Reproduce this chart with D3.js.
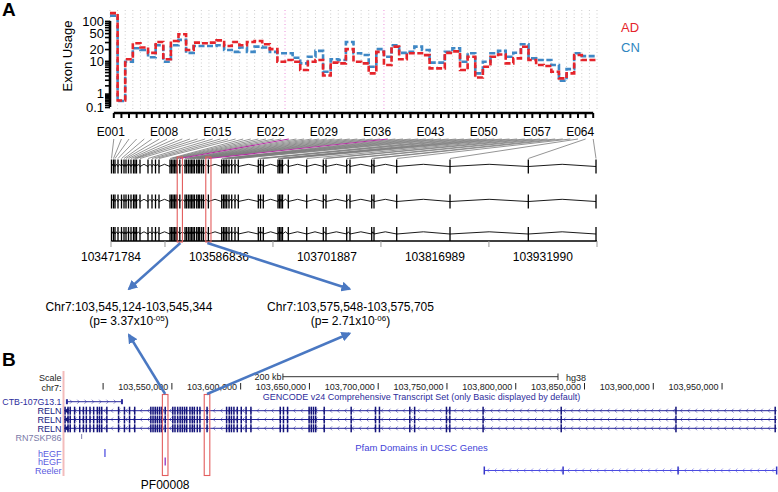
<!DOCTYPE html>
<html>
<head>
<meta charset="utf-8">
<title>RELN exon usage</title>
<script src="https://d3js.org/d3.v7.min.js"></script>
<style>
  body { margin: 0; background: #fff; }
  svg { font-family: "Liberation Sans", Arial, Helvetica, sans-serif; }
</style>
</head>
<body>
<svg id="fig" width="778" height="492"></svg>
<script>
// ---- data ----
const exons = [
  'E001','E002','E003','E004','E005','E006','E007','E008','E009','E010','E011','E012','E013','E014','E015','E016',
  'E017','E018','E019','E020','E021','E022','E023','E024','E025','E026','E027','E028','E029','E030','E031','E032',
  'E033','E034','E035','E036','E037','E038','E039','E040','E041','E042','E043','E044','E045','E046','E047','E048',
  'E049','E050','E051','E052','E053','E054','E055','E056','E057','E058','E059','E060','E061','E062','E063','E064'
];
const adUsage = [
  155, 0.45, 11, 28, 22, 16, 30, 11, 32, 47,
  19, 29, 28, 29, 33, 24, 30, 25, 30, 32,
  26.5, 20, 9.5, 10.5, 9.5, 5.7, 9.5, 10.5, 4.0, 9,
  8.6, 20, 9.5, 8.6, 4.6, 17, 7.8, 23, 11, 15.7,
  15.7, 14, 6.3, 6.3, 16, 17.5, 5.7, 12.8, 3.5, 7,
  12.8, 14.6, 8.6, 11.6, 22.8, 10.5, 7.8, 7.3, 5.1, 3.3,
  4.6, 14.2, 10.5, 10.5
];
const cnUsage = [
  135, 0.42, 9.5, 21, 19, 12.4, 25, 9.5, 25, 34,
  16, 24, 24, 24, 25, 19, 17, 22, 17, 23,
  22, 17, 15.7, 15.7, 12, 8.6, 12.8, 18, 5.1, 11,
  10.5, 30, 15.7, 14.2, 7, 20, 12.8, 25, 16, 17,
  23, 19, 9, 9, 17, 21, 9.5, 15.7, 4.6, 9.5,
  15.7, 18, 12.8, 16.2, 26.5, 11.6, 10.5, 10.5, 7.8, 2.8,
  6, 15.7, 13.2, 13.2
];
// approximate exon bin positions on chr7 (bp)
const exonStart = [
  103472317, 103474448, 103476046, 103479243, 103482973, 103485637, 103487768, 103490432, 103493096, 103495760,
  103497358, 103498957, 103502686, 103511211, 103515474, 103519203, 103522933, 103534654, 103536253, 103537851,
  103539450, 103541048, 103542433, 103545124, 103550638, 103552237, 103554155, 103555966, 103557565, 103559163,
  103560762, 103563106, 103564811, 103566303, 103568434, 103570352, 103575548, 103589746, 103591664, 103593262,
  103595074, 103597525, 103600402, 103603918, 103607435, 103628746, 103631091, 103634074, 103649739, 103651338,
  103652936, 103654534, 103660715, 103680322, 103698011, 103700888, 103722946, 103726462, 103749586, 103752037,
  103776226, 103833022, 103916459, 103988600
];
const sigExons = ['E024', 'E037'];
const sigLabels = ['Chr7:103,545,124-103,545,344', 'Chr7:103,575,548-103,575,705'];
const sigP = ['3.37', '2.71'];
const sigExp = ['-05', '-06'];
const xTickLabels = ['E001','E008','E015','E022','E029','E036','E043','E050','E057','E064'];
const yTickLabels = [100, 50, 20, 10, 1, 0.1];
const geneRange = [103471784, 103989658];
const genomeTickLabels = [103471784, 103586836, 103701887, 103816989, 103931990];
const genomeMinorTicks = [103529310, 103644362, 103759438, 103874490, 103989658];

// panel B (browser view)
const browserTicks = [103500000, 103550000, 103600000, 103650000, 103700000, 103750000, 103800000, 103850000, 103900000, 103950000];
const ctbSpan = [103473700, 103513700];
const rn7skPos = [103484400];
const hegf1Pos = [103501300];
const hegf2Pos = [103545124];
const reelerSpan = [103777100, 103989658];
const reelerJoins = [103834400, 103918000];

const svg = d3.select('#fig');
const blue = '#4a78c2';

// ================= panel A =================
svg.append('text').attr('x', 2).attr('y', 16).attr('font-size', 19).attr('font-weight', 'bold').text('A');

const x = d3.scaleBand().domain(exons).range([110, 597]);
const y = d3.scaleSymlog().constant(0.7).domain([0, 185]).range([109.4, 10]);
const mid = d => x(d) + x.bandwidth() / 2;

// dotted exon boundaries
const bounds = exons.map(e => ({ e, x: x(e) })).concat([{ e: 'end', x: x.range()[1] }]);
svg.append('g').selectAll('line').data(bounds).join('line')
  .attr('x1', d => d.x).attr('x2', d => d.x)
  .attr('y1', 10).attr('y2', 110)
  .attr('stroke', d => sigExons.includes(d.e) ? '#ea8fd9' : '#cdcdcd')
  .attr('stroke-width', 1)
  .attr('stroke-dasharray', '1,2.5');

// usage step lines
const step = d3.line().curve(d3.curveStepAfter);
function usagePath(vals) {
  const pts = exons.map((e, i) => [x(e), y(vals[i])]);
  pts.push([x.range()[1], y(vals[vals.length - 1])]);
  return step(pts);
}
svg.append('path').attr('d', usagePath(cnUsage))
  .attr('fill', 'none').attr('stroke', '#3f88c5').attr('stroke-width', 2.6).attr('stroke-dasharray', '6,2.5');
svg.append('path').attr('d', usagePath(adUsage))
  .attr('fill', 'none').attr('stroke', '#e5242b').attr('stroke-width', 2.6).attr('stroke-dasharray', '6,2.5');

// y axis
const yTicks = d3.range(1, 10).map(d => d / 10).concat(d3.range(1, 10), d3.range(10, 101, 10));
const gy = svg.append('g').attr('transform', 'translate(110,0)')
  .call(d3.axisLeft(y).tickValues(yTicks).tickSize(5).tickPadding(1)
    .tickFormat(d => yTickLabels.includes(d) ? d : ''));
gy.attr('font-family', null).attr('font-size', 13);
gy.select('.domain').remove();
gy.selectAll('.tick text').filter(function () { return this.textContent === ''; }).remove();
gy.selectAll('.tick line').attr('stroke-width', 1.6);
gy.append('line').attr('x1', 0).attr('x2', 0).attr('y1', y(0.1)).attr('y2', y(100))
  .attr('stroke', '#000').attr('stroke-width', 2.6);

svg.append('text')
  .attr('transform', 'translate(72,56) rotate(-90)')
  .attr('text-anchor', 'middle').attr('font-size', 13)
  .text('Exon Usage');

// x axis
const gx = svg.append('g').attr('transform', 'translate(0,113)')
  .call(d3.axisBottom(x).tickSize(5).tickSizeOuter(0).tickPadding(9)
    .tickFormat(d => xTickLabels.includes(d) ? d : ''));
gx.attr('font-family', null).attr('font-size', 12);
gx.select('.domain').remove();
gx.selectAll('.tick text').filter(function () { return this.textContent === ''; }).remove();
gx.selectAll('.tick line').attr('stroke-width', 2);
gx.selectAll('.tick text').attr('dx', d => d === 'E064' ? -13 : -3);
gx.append('line').attr('x1', mid(exons[0])).attr('x2', mid(exons[exons.length - 1]))
  .attr('stroke', '#000').attr('stroke-width', 2.4);

// legend
svg.append('text').attr('x', 621).attr('y', 32).attr('font-size', 13).attr('fill', '#e5242b').text('AD');
svg.append('text').attr('x', 621).attr('y', 52).attr('font-size', 13).attr('fill', '#2f86c0').text('CN');

// gene model
const g = d3.scaleLinear().domain(geneRange).range([111, 597]);
const fan = exons.map((e, i) => ({ e, x0: mid(e), x1: g(exonStart[i]), sig: sigExons.includes(e) }));
svg.append('g').selectAll('line').data(fan.filter(d => !d.sig).concat(fan.filter(d => d.sig))).join('line')
  .attr('x1', d => d.x0).attr('y1', 139)
  .attr('x2', d => d.x1).attr('y2', 158.5)
  .attr('stroke', d => d.sig ? '#b0309f' : '#7a7a7a')
  .attr('stroke-width', d => d.sig ? 1.1 : 0.8);

const rowY = [166.5, 201.5, 234];
rowY.forEach(cy => {
  const row = svg.append('g');
  row.selectAll('path').data(d3.pairs(exonStart)).join('path')
    .attr('d', ([a, b]) => `M${g(a)},${cy}L${(g(a) + g(b)) / 2},${cy - 2.2}L${g(b)},${cy}`)
    .attr('fill', 'none').attr('stroke', '#000').attr('stroke-width', 0.9);
  row.selectAll('rect').data(exonStart).join('rect')
    .attr('x', d => g(d) - 0.65).attr('y', cy - 7)
    .attr('width', 1.3).attr('height', 14).attr('fill', '#000');
});

// genome axis
svg.append('line').attr('x1', g(geneRange[0])).attr('x2', g(geneRange[1]))
  .attr('y1', 241).attr('y2', 241).attr('stroke', '#000').attr('stroke-width', 1.6);
svg.append('g').selectAll('line').data([geneRange[0]].concat(genomeMinorTicks)).join('line')
  .attr('x1', d => g(d)).attr('x2', d => g(d)).attr('y1', 241).attr('y2', 247)
  .attr('stroke', '#999').attr('stroke-width', 1);
svg.append('g').selectAll('text').data(genomeTickLabels).join('text')
  .attr('x', d => g(d)).attr('y', 261).attr('text-anchor', 'middle').attr('font-size', 12)
  .text(d => d);

// highlighted exons
const sigPos = sigExons.map(e => exonStart[exons.indexOf(e)]);
svg.append('g').selectAll('rect').data(sigPos).join('rect')
  .attr('x', d => g(d) - 2.6).attr('y', 157).attr('width', 5.2).attr('height', 85)
  .attr('fill', 'none').attr('stroke', '#e35d5d').attr('stroke-width', 1.1);

// ================= panel B =================
svg.append('text').attr('x', 2).attr('y', 366).attr('font-size', 19).attr('font-weight', 'bold').text('B');

const gb = d3.scaleLinear().domain(geneRange).range([64.3, 776.6]);
const fs = 9;

svg.append('line').attr('x1', 63.5).attr('x2', 63.5).attr('y1', 371).attr('y2', 476)
  .attr('stroke', '#f3bcbc').attr('stroke-width', 2);

const labels = [
  ['Scale', 381, '#222'], ['chr7:', 390.5, '#222'],
  ['CTB-107G13.1', 404.5, '#2d2d9c'], ['RELN', 414, '#1a1a80'], ['RELN', 423, '#1a1a80'], ['RELN', 431.5, '#1a1a80'],
  ['RN7SKP86', 440.5, '#7a7aa8'], ['hEGF', 456.5, '#5b5be0'], ['hEGF', 465, '#5b5be0'], ['Reeler', 474, '#5b5be0']
];
svg.append('g').selectAll('text').data(labels).join('text')
  .attr('x', 61.5).attr('y', d => d[1]).attr('text-anchor', 'end')
  .attr('font-size', d => d[0].length > 10 ? 8.8 : fs).attr('fill', d => d[2]).text(d => d[0]);

// scale bar
const barLen = gb(geneRange[0] + 200000) - gb(geneRange[0]);
const barMid = (gb.range()[0] + gb.range()[1]) / 2;
const b0 = barMid - barLen / 2, b1 = barMid + barLen / 2;
svg.append('line').attr('x1', b0).attr('x2', b1).attr('y1', 376.7).attr('y2', 376.7).attr('stroke', '#333');
[b0, b1].forEach(v => svg.append('line').attr('x1', v).attr('x2', v).attr('y1', 373.5).attr('y2', 380).attr('stroke', '#333'));
svg.append('text').attr('x', b0 - 1.5).attr('y', 380).attr('text-anchor', 'end').attr('font-size', fs).attr('fill', '#222').text('200 kb');
svg.append('text').attr('x', b1 + 8).attr('y', 380.5).attr('font-size', fs).attr('fill', '#222').text('hg38');

// chr7 coordinates
const fmt = d3.format(',');
svg.append('g').selectAll('line').data(browserTicks).join('line')
  .attr('x1', d => gb(d)).attr('x2', d => gb(d)).attr('y1', 383).attr('y2', 389.5)
  .attr('stroke', '#222');
svg.append('g').selectAll('text').data(browserTicks.slice(1)).join('text')
  .attr('x', d => gb(d) - 3.5).attr('y', 389.5).attr('text-anchor', 'end')
  .attr('font-size', fs).attr('fill', '#222').text(d => fmt(d));

svg.append('text').attr('x', 421.5).attr('y', 399.5).attr('text-anchor', 'middle')
  .attr('font-size', fs).attr('fill', '#2d2d9c')
  .text('GENCODE v24 Comprehensive Transcript Set (only Basic displayed by default)');
svg.append('text').attr('x', 421.5).attr('y', 451).attr('text-anchor', 'middle')
  .attr('font-size', 9.5).attr('fill', '#3f3fd8').text('Pfam Domains in UCSC Genes');

// helper: thin feature line with strand hash marks
function featureLine(x0, x1, cy, color, strand) {
  const gl = svg.append('g');
  gl.append('line').attr('x1', x0).attr('x2', x1).attr('y1', cy).attr('y2', cy)
    .attr('stroke', color).attr('stroke-width', 1);
  const marks = d3.range(x0 + 4, x1 - 2, 7.3);
  gl.selectAll('path').data(marks).join('path')
    .attr('d', m => strand > 0 ? `M${m - 1},${cy - 2}L${m + 1},${cy}L${m - 1},${cy + 2}`
                               : `M${m + 1},${cy - 2}L${m - 1},${cy}L${m + 1},${cy + 2}`)
    .attr('fill', 'none').attr('stroke', color).attr('stroke-width', 0.7).attr('opacity', 0.8);
  return gl;
}

// CTB-107G13.1
const ctb = featureLine(gb(ctbSpan[0]), gb(ctbSpan[1]), 401.7, '#2d2d9c', 1);
ctbSpan.forEach(v => ctb.append('rect').attr('x', gb(v) - 1).attr('y', 399.2).attr('width', 2).attr('height', 5).attr('fill', '#2d2d9c'));

// RELN transcripts
[410.7, 419.5, 428.3].forEach(cy => {
  const r = featureLine(gb(geneRange[0]), gb(geneRange[1]), cy, '#23239a', -1);
  r.append('path').attr('d', `M${gb(geneRange[0])},${cy}L${gb(geneRange[0]) + 4},${cy - 3}L${gb(geneRange[0]) + 4},${cy + 3}Z`).attr('fill', '#14147a');
  r.selectAll('rect').data(exonStart).join('rect')
    .attr('x', d => gb(d) - 0.7).attr('y', cy - 4).attr('width', 1.5).attr('height', 8).attr('fill', '#14147a');
});

// RN7SKP86, hEGF domains
svg.append('g').selectAll('rect').data(rn7skPos).join('rect')
  .attr('x', d => gb(d) - 0.5).attr('y', 434).attr('width', 1).attr('height', 5).attr('fill', '#8080b0');
svg.append('g').selectAll('rect').data(hegf1Pos).join('rect')
  .attr('x', d => gb(d) - 0.7).attr('y', 449).attr('width', 1.5).attr('height', 8).attr('fill', '#6a6ae6');
svg.append('g').selectAll('rect').data(hegf2Pos).join('rect')
  .attr('x', d => gb(d) - 0.7).attr('y', 457.5).attr('width', 1.5).attr('height', 8).attr('fill', '#a050c8');

// Reeler domain
const reeler = featureLine(gb(reelerSpan[0]), gb(reelerSpan[1]), 470.5, '#4b4be0', -1);
reeler.selectAll('rect').data(reelerSpan.concat(reelerJoins)).join('rect')
  .attr('x', d => gb(d) - 0.7).attr('y', 466.5).attr('width', 1.5).attr('height', 8).attr('fill', '#3636c8');

// highlighted exons in browser view
svg.append('g').selectAll('rect').data(sigPos).join('rect')
  .attr('x', d => gb(d) - 2.8).attr('y', 394.5).attr('width', 5.6).attr('height', 81)
  .attr('fill', 'none').attr('stroke', '#e35d5d').attr('stroke-width', 1.1);

svg.append('text').attr('x', gb(sigPos[0])).attr('y', 488.5).attr('text-anchor', 'middle')
  .attr('font-size', 12).text('PF00008');

// ================= arrows + region labels =================
svg.append('defs').append('marker').attr('id', 'ah')
  .attr('viewBox', '0 0 10 10').attr('refX', 8).attr('refY', 5)
  .attr('markerWidth', 4).attr('markerHeight', 4).attr('orient', 'auto')
  .append('path').attr('d', 'M0,0L10,5L0,10z').attr('fill', blue);

const labelX = [129, 350.5];
const arrows = [
  [g(sigPos[0]) + 0.5, 243, labelX[0], 289],
  [g(sigPos[1]) - 1, 243, labelX[1] - 1, 289],
  [gb(sigPos[0]), 394, labelX[0], 335],
  [gb(sigPos[1]), 394, labelX[1] - 1, 333.5]
];
svg.append('g').selectAll('line').data(arrows).join('line')
  .attr('x1', d => d[0]).attr('y1', d => d[1]).attr('x2', d => d[2]).attr('y2', d => d[3])
  .attr('stroke', blue).attr('stroke-width', 2.5).attr('marker-end', 'url(#ah)');

sigLabels.forEach((t, i) => {
  svg.append('text').attr('x', labelX[i]).attr('y', 310.5).attr('text-anchor', 'middle')
    .attr('font-size', 12).text(t);
  const p = svg.append('text').attr('x', labelX[i]).attr('y', 325).attr('text-anchor', 'middle').attr('font-size', 12);
  p.append('tspan').text(`(p= ${sigP[i]}x10`);
  p.append('tspan').attr('dy', -4.5).attr('font-size', 8).text(sigExp[i]);
  p.append('tspan').attr('dy', 4.5).text(')');
});
</script>
</body>
</html>
